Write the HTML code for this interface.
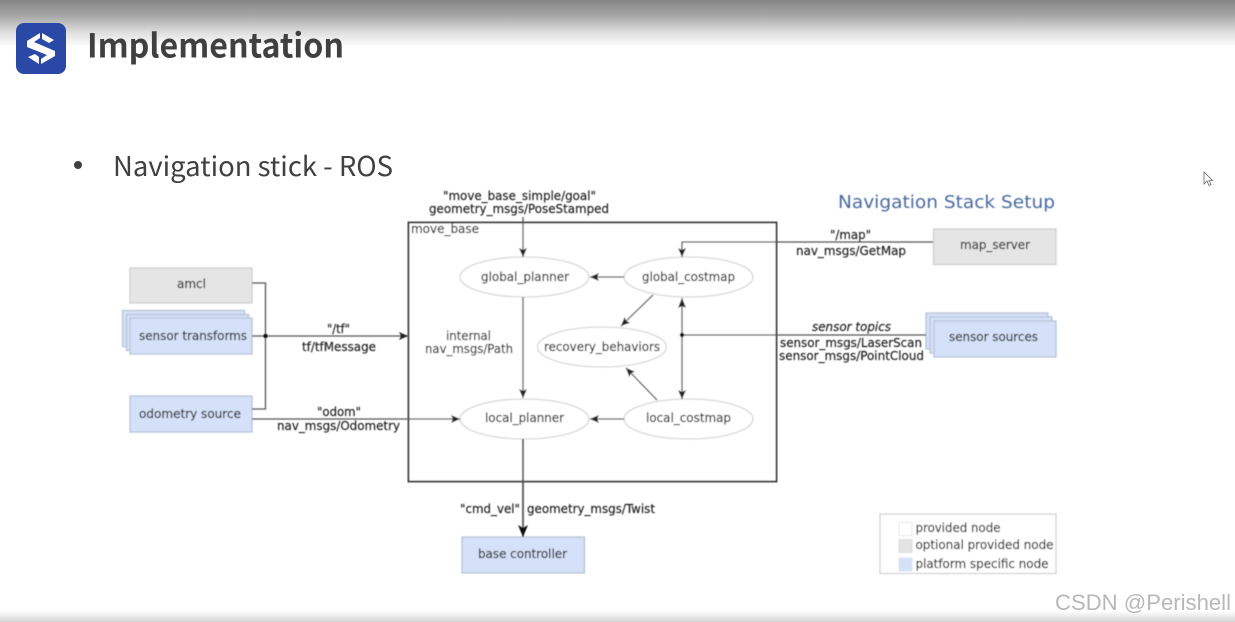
<!DOCTYPE html>
<html><head><meta charset="utf-8"><style>
html,body{margin:0;padding:0;background:#fff;width:1235px;height:622px;overflow:hidden}
svg{display:block}
.t{font-family:"DejaVu Sans",sans-serif;font-size:12px;fill:#1c1c1c;stroke:#1c1c1c;stroke-width:.15}
.l{stroke:#555;stroke-width:1.3;fill:none}
.e{fill:#fff;stroke:#d8d8d8;stroke-width:1.3}
.g{fill:#e5e5e5;stroke:#cfcfcf;stroke-width:1.3}
.b{fill:#d5e1f8;stroke:#b8c4d8;stroke-width:1.3}
</style></head><body>
<svg width="1235" height="622" viewBox="0 0 1235 622" xmlns="http://www.w3.org/2000/svg">
<defs>
<linearGradient id="top" x1="0" y1="0" x2="0" y2="1"><stop offset="0" stop-color="#858585"/><stop offset=".35" stop-color="#a8a8a8"/><stop offset=".7" stop-color="#dedede"/><stop offset="1" stop-color="#fefefe"/></linearGradient>
<linearGradient id="bot" x1="0" y1="0" x2="0" y2="1"><stop offset="0" stop-color="#fff"/><stop offset="1" stop-color="#d4d4d4"/></linearGradient>
<filter id="s" x="-2%" y="-2%" width="104%" height="104%"><feGaussianBlur stdDeviation="0.45"/></filter>
<filter id="s2" x="-2%" y="-10%" width="104%" height="120%"><feGaussianBlur stdDeviation="0.35"/></filter>
<marker id="a" markerWidth="10" markerHeight="8" refX="9" refY="4" orient="auto" markerUnits="userSpaceOnUse"><path d="M0 0L9 4L0 8L2 4Z" fill="#222"/></marker>
</defs>
<rect width="1235" height="622" fill="#fff"/>
<rect width="1235" height="46" fill="url(#top)"/>
<rect y="611" width="1235" height="11" fill="url(#bot)"/>
<g filter="url(#s2)">
<rect x="16" y="23" width="50" height="51" rx="8" fill="#2b4aa6"/>
<path d="M27 41L40 33V38L34 42L55 51V56L41 64V59L47 55L27 47Z M42 33L54 40L49 43L42 39Z M28 57L35 54L39 57V64Z" fill="#fff"/>
<text x="87" y="57.500" font-family="'Noto Sans CJK SC','Liberation Sans',sans-serif" font-weight="700" font-size="33" fill="#404040" textLength="257" lengthAdjust="spacingAndGlyphs">Implementation</text>
<circle cx="78" cy="165" r="4" fill="#404040"/>
<text x="113" y="176" font-family="'Noto Sans CJK SC','Liberation Sans',sans-serif" font-size="27" fill="#404040" textLength="280" lengthAdjust="spacingAndGlyphs">Navigation stick - ROS</text>
</g>
<path d="M1204 172V184L1207 181L1209 185.500L1211 184.500L1209 180.500L1212.500 180.500Z" fill="#fff" stroke="#666" stroke-width=".8"/>
<g filter="url(#s)">
<text x="838" y="208" font-family="'DejaVu Sans',sans-serif" font-size="18" fill="#4a6a9e" textLength="217" lengthAdjust="spacingAndGlyphs">Navigation Stack Setup</text>
<rect x="408.500" y="222.500" width="368" height="259" fill="#fff" stroke="#333" stroke-width="1.800"/>
<rect class="g" x="130" y="268" width="122" height="35"/>
<rect class="b" x="122.500" y="310.500" width="122" height="36"/>
<rect class="b" x="126.500" y="314.500" width="122" height="36"/>
<rect class="b" x="130" y="318" width="122" height="36"/>
<rect class="b" x="130" y="396" width="122" height="36"/>
<rect class="g" x="933.500" y="229" width="122.500" height="35.500"/>
<rect class="b" x="926" y="313" width="122" height="36"/>
<rect class="b" x="930" y="317" width="122" height="36"/>
<rect class="b" x="934" y="321" width="122" height="36"/>
<rect class="b" x="462" y="537" width="122.500" height="36"/>
<ellipse class="e" cx="524.500" cy="277" rx="64.500" ry="20"/>
<ellipse class="e" cx="688.500" cy="277" rx="64.500" ry="20"/>
<ellipse class="e" cx="602" cy="347" rx="64.500" ry="20"/>
<ellipse class="e" cx="524.500" cy="419" rx="64.500" ry="20"/>
<ellipse class="e" cx="688.500" cy="419" rx="64.500" ry="20"/>
<path class="l" d="M252 283H265.500V409H252"/>
<path class="l" d="M252 336H408" marker-end="url(#a)"/>
<path class="l" d="M252 419H460" marker-end="url(#a)"/>
<path class="l" d="M523 217V257" marker-end="url(#a)"/>
<path class="l" d="M523 297V398" marker-end="url(#a)"/>
<path class="l" d="M624 277H590" marker-end="url(#a)"/>
<path class="l" d="M624 419H590" marker-end="url(#a)"/>
<path class="l" d="M653 295L621 326" marker-end="url(#a)"/>
<path class="l" d="M657 400L626 368" marker-end="url(#a)"/>
<path class="l" d="M682 298V399" marker-end="url(#a)"/>
<path d="M682 298L686 308L682 306L678 308Z" fill="#222"/>
<path class="l" d="M682 335H926"/>
<path class="l" d="M933 242H682V257" marker-end="url(#a)"/>
<path d="M523 439V537" stroke="#555" stroke-width="1.800" fill="none"/>
<path d="M518 525L523 537L528 525L523 528Z" fill="#111"/>
<circle cx="265.500" cy="336" r="2.200" fill="#111"/>
<circle cx="682" cy="335" r="2.200" fill="#111"/>
<text class="t" x="177" y="288" textLength="29" lengthAdjust="spacingAndGlyphs">amcl</text>
<text class="t" x="139" y="340" textLength="108" lengthAdjust="spacingAndGlyphs">sensor transforms</text>
<text class="t" x="139" y="418" textLength="102" lengthAdjust="spacingAndGlyphs">odometry source</text>
<text class="t" x="327" y="333" textLength="23" lengthAdjust="spacingAndGlyphs">"/tf"</text>
<text class="t" x="302" y="351" textLength="74" lengthAdjust="spacingAndGlyphs">tf/tfMessage</text>
<text class="t" x="317" y="416" textLength="44" lengthAdjust="spacingAndGlyphs">"odom"</text>
<text class="t" x="277" y="430" textLength="123" lengthAdjust="spacingAndGlyphs">nav_msgs/Odometry</text>
<text class="t" x="443" y="200" textLength="153" lengthAdjust="spacingAndGlyphs">"move_base_simple/goal"</text>
<text class="t" x="429" y="213" textLength="180" lengthAdjust="spacingAndGlyphs">geometry_msgs/PoseStamped</text>
<text class="t" x="411" y="233" textLength="68" lengthAdjust="spacingAndGlyphs">move_base</text>
<text class="t" x="481" y="281" textLength="88" lengthAdjust="spacingAndGlyphs">global_planner</text>
<text class="t" x="642" y="281" textLength="93" lengthAdjust="spacingAndGlyphs">global_costmap</text>
<text class="t" x="544" y="351" textLength="116" lengthAdjust="spacingAndGlyphs">recovery_behaviors</text>
<text class="t" x="485" y="422" textLength="79" lengthAdjust="spacingAndGlyphs">local_planner</text>
<text class="t" x="646" y="422" textLength="85" lengthAdjust="spacingAndGlyphs">local_costmap</text>
<text class="t" x="446" y="340" textLength="45" lengthAdjust="spacingAndGlyphs">internal</text>
<text class="t" x="425" y="353" textLength="88" lengthAdjust="spacingAndGlyphs">nav_msgs/Path</text>
<text class="t" x="830" y="239" textLength="41" lengthAdjust="spacingAndGlyphs">"/map"</text>
<text class="t" x="796" y="255" textLength="110" lengthAdjust="spacingAndGlyphs">nav_msgs/GetMap</text>
<text class="t" x="960" y="249" textLength="70" lengthAdjust="spacingAndGlyphs">map_server</text>
<text class="t" x="812" y="331" font-style="italic" textLength="79" lengthAdjust="spacingAndGlyphs">sensor topics</text>
<text class="t" x="780" y="347" textLength="142" lengthAdjust="spacingAndGlyphs">sensor_msgs/LaserScan</text>
<text class="t" x="779" y="360" textLength="145" lengthAdjust="spacingAndGlyphs">sensor_msgs/PointCloud</text>
<text class="t" x="949" y="341" textLength="89" lengthAdjust="spacingAndGlyphs">sensor sources</text>
<text class="t" x="460" y="513" textLength="60" lengthAdjust="spacingAndGlyphs">"cmd_vel"</text>
<text class="t" x="527" y="513" textLength="128" lengthAdjust="spacingAndGlyphs">geometry_msgs/Twist</text>
<text class="t" x="478" y="558" textLength="89" lengthAdjust="spacingAndGlyphs">base controller</text>
<rect x="880" y="514" width="176" height="59.500" fill="#fff" stroke="#d0d0d0" stroke-width="1.200"/>
<rect x="899" y="522.500" width="13" height="13" fill="#fff" stroke="#e8e8e8"/>
<rect x="899" y="539.500" width="13" height="13" fill="#e3e3e3" stroke="#dcdcdc"/>
<rect x="899" y="558" width="13" height="13" fill="#d5e1f8" stroke="#dbe4f6"/>
<text class="t" x="915.500" y="532" textLength="85" lengthAdjust="spacingAndGlyphs">provided node</text>
<text class="t" x="915.500" y="549" textLength="138" lengthAdjust="spacingAndGlyphs">optional provided node</text>
<text class="t" x="915.500" y="568" textLength="133" lengthAdjust="spacingAndGlyphs">platform specific node</text>
</g>
<text x="1055" y="610" font-family="'Liberation Sans',sans-serif" font-size="22" fill="#b8b8b8" textLength="176" lengthAdjust="spacingAndGlyphs">CSDN @Perishell</text>
</svg>
</body></html>
